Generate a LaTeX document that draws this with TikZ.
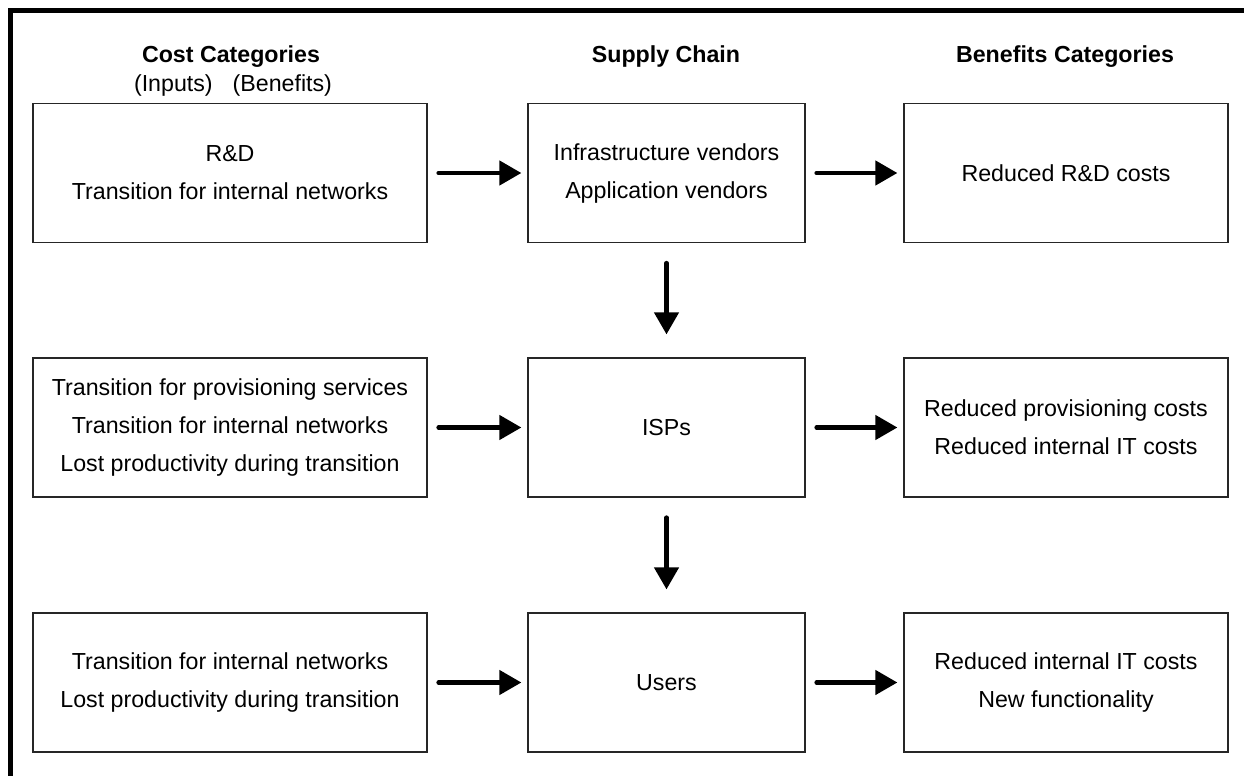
\documentclass[tikz,border=0pt]{standalone}
\usepackage{fontspec}
\setmainfont{Liberation Sans}
\usetikzlibrary{arrows.meta}
\begin{document}
\begin{tikzpicture}[x=0.5pt,y=-0.5pt,
  txt/.style={font=\fontsize{11.6pt}{19pt}\selectfont},
  hdr/.style={font=\fontsize{11.6pt}{19pt}\selectfont\bfseries, anchor=base, inner sep=0pt},
  sub/.style={font=\fontsize{11.6pt}{19pt}\selectfont, anchor=base, inner sep=0pt},
  box/.style={txt, draw=black!85, line width=0.6pt, align=center, minimum height=69.5pt, inner sep=0pt},
  lbox/.style={box, minimum width=197pt},
  mbox/.style={box, minimum width=138.5pt},
  rbox/.style={box, minimum width=162pt},
  arr/.style={line width=2.2pt, line cap=round, -{Triangle[length=11pt,width=12pt]}},
  harr/.style={arr, shorten <=5.5pt, shorten >=3pt},
  varr/.style={arr, shorten <=10pt, shorten >=11.5pt}
]
\useasboundingbox (0,0) rectangle (1244,776);
% frame
\draw[line width=2.5pt] (10.5,776) -- (10.5,10.5) -- (1244,10.5);
% headers
\node[hdr] (h1) at (231,62) {Cost Categories};
\node[sub] (h1b) at (233,91) {(Inputs)\hspace{10pt}(Benefits)};
\node[hdr] (h2) at (666,62) {Supply Chain};
\node[hdr] (h3) at (1065,62) {Benefits Categories};
% row 1
\node[lbox] (c1) at (230,173) {R\&D\\Transition for internal networks};
\node[mbox] (s1) at (666.5,173) {Infrastructure vendors\\Application vendors};
\node[rbox] (b1) at (1066,173) {Reduced R\&D costs};
% row 2
\node[lbox] (c2) at (230,427.5) {Transition for provisioning services\\Transition for internal networks\\Lost productivity during transition};
\node[mbox] (s2) at (666.5,427.5) {ISPs};
\node[rbox] (b2) at (1066,427.5) {Reduced provisioning costs\\Reduced internal IT costs};
% row 3
\node[lbox] (c3) at (230,682.5) {Transition for internal networks\\Lost productivity during transition};
\node[mbox] (s3) at (666.5,682.5) {Users};
\node[rbox] (b3) at (1066,682.5) {Reduced internal IT costs\\New functionality};
% arrows
\draw[harr] (c1) -- (s1);
\draw[harr] (s1) -- (b1);
\draw[harr] (c2) -- (s2);
\draw[harr] (s2) -- (b2);
\draw[harr] (c3) -- (s3);
\draw[harr] (s3) -- (b3);
\draw[varr] (s1) -- (s2);
\draw[varr] (s2) -- (s3);
\end{tikzpicture}
\end{document}
